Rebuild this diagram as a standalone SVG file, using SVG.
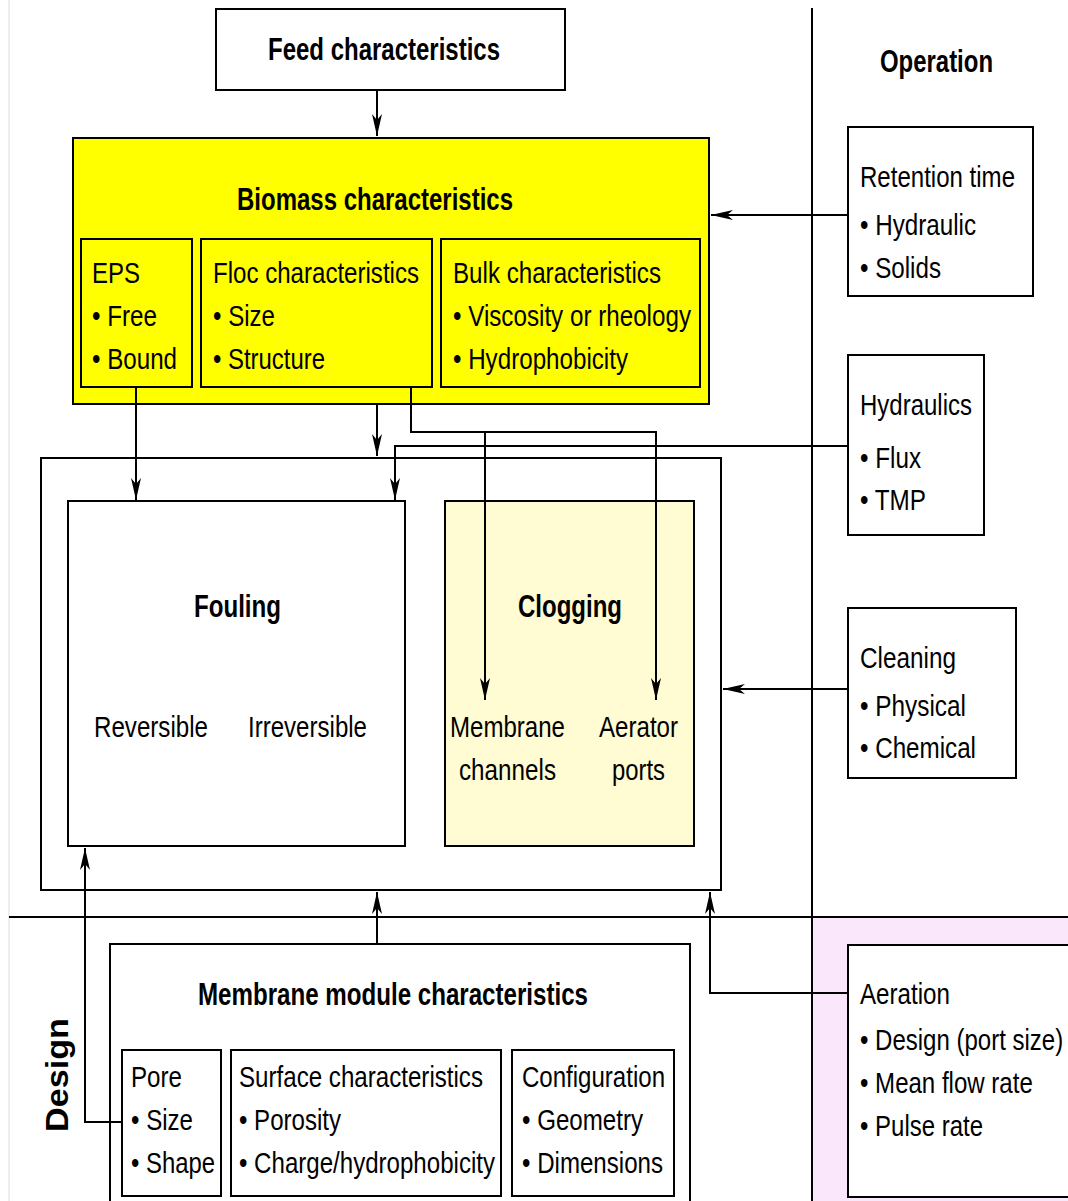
<svg xmlns="http://www.w3.org/2000/svg" width="1068" height="1201" viewBox="0 0 1068 1201">
<style>
.box{fill:#fff;stroke:#000;stroke-width:2}
.yel{fill:#ffff00;stroke:#000;stroke-width:2}
.clog{fill:#fffbd2;stroke:#000;stroke-width:2}
.ln{fill:none;stroke:#000;stroke-width:2}
.t{font-family:"Liberation Sans",Arial,sans-serif;font-size:30px;fill:#000}
.b{font-family:"Liberation Sans",Arial,sans-serif;font-size:31px;font-weight:bold;fill:#000}
</style>
<defs>
<marker id="ah" viewBox="0 0 22 10" refX="22" refY="5" markerWidth="22" markerHeight="10" markerUnits="userSpaceOnUse" orient="auto">
<path d="M0,0 L22,5 L0,10 L6,5 z" fill="#000"/>
</marker>
</defs>
<rect x="0" y="0" width="1068" height="1201" fill="#fff"/>
<g id="background">
<rect x="812" y="917" width="256" height="284" fill="#fbe7fb"/>
<line x1="9" y1="0" x2="9" y2="1201" stroke="#ddd" stroke-width="1"/>
<line x1="812" y1="8" x2="812" y2="1201" class="ln"/>
<line x1="9" y1="917" x2="1068" y2="917" class="ln"/>
<text class="b" x="880" y="72" textLength="113" lengthAdjust="spacingAndGlyphs">Operation</text>
<text class="b" transform="translate(68,1132) rotate(-90)" x="0" y="0" textLength="114" lengthAdjust="spacingAndGlyphs">Design</text>
</g>
<g id="feed">
<rect x="216" y="9" width="349" height="81" class="box"/>
<text class="b" x="268" y="60" textLength="232" lengthAdjust="spacingAndGlyphs">Feed characteristics</text>
</g>
<g id="biomass">
<rect x="73" y="138" width="636" height="266" class="yel"/>
<text class="b" x="237" y="210" textLength="276" lengthAdjust="spacingAndGlyphs">Biomass characteristics</text>
<rect x="81" y="239" width="111" height="148" class="yel"/>
<text class="t" x="92" y="283" textLength="48" lengthAdjust="spacingAndGlyphs">EPS</text>
<text class="t" x="92" y="326" textLength="65" lengthAdjust="spacingAndGlyphs">• Free</text>
<text class="t" x="92" y="369" textLength="85" lengthAdjust="spacingAndGlyphs">• Bound</text>
<rect x="201" y="239" width="231" height="148" class="yel"/>
<text class="t" x="213" y="283" textLength="206" lengthAdjust="spacingAndGlyphs">Floc characteristics</text>
<text class="t" x="213" y="326" textLength="62" lengthAdjust="spacingAndGlyphs">• Size</text>
<text class="t" x="213" y="369" textLength="112" lengthAdjust="spacingAndGlyphs">• Structure</text>
<rect x="441" y="239" width="259" height="148" class="yel"/>
<text class="t" x="453" y="283" textLength="208" lengthAdjust="spacingAndGlyphs">Bulk characteristics</text>
<text class="t" x="453" y="326" textLength="238" lengthAdjust="spacingAndGlyphs">• Viscosity or rheology</text>
<text class="t" x="453" y="369" textLength="175" lengthAdjust="spacingAndGlyphs">• Hydrophobicity</text>
</g>
<g id="retention">
<rect x="848" y="127" width="185" height="169" class="box"/>
<text class="t" x="860" y="187" textLength="155" lengthAdjust="spacingAndGlyphs">Retention time</text>
<text class="t" x="860" y="235" textLength="116" lengthAdjust="spacingAndGlyphs">• Hydraulic</text>
<text class="t" x="860" y="278" textLength="81" lengthAdjust="spacingAndGlyphs">• Solids</text>
</g>
<g id="hydraulics">
<rect x="848" y="355" width="136" height="180" class="box"/>
<text class="t" x="860" y="415" textLength="112" lengthAdjust="spacingAndGlyphs">Hydraulics</text>
<text class="t" x="860" y="468" textLength="61" lengthAdjust="spacingAndGlyphs">• Flux</text>
<text class="t" x="860" y="510" textLength="66" lengthAdjust="spacingAndGlyphs">• TMP</text>
</g>
<g id="container">
<rect x="41" y="458" width="680" height="432" class="box"/>
</g>
<g id="fouling">
<rect x="68" y="501" width="337" height="345" class="box"/>
<text class="b" x="194" y="617" textLength="87" lengthAdjust="spacingAndGlyphs">Fouling</text>
<text class="t" x="94" y="737" textLength="114" lengthAdjust="spacingAndGlyphs">Reversible</text>
<text class="t" x="248" y="737" textLength="119" lengthAdjust="spacingAndGlyphs">Irreversible</text>
</g>
<g id="clogging">
<rect x="445" y="501" width="249" height="345" class="clog"/>
<text class="b" x="518" y="617" textLength="104" lengthAdjust="spacingAndGlyphs">Clogging</text>
<text class="t" x="450" y="737" textLength="115" lengthAdjust="spacingAndGlyphs">Membrane</text>
<text class="t" x="459" y="780" textLength="97" lengthAdjust="spacingAndGlyphs">channels</text>
<text class="t" x="599" y="737" textLength="79" lengthAdjust="spacingAndGlyphs">Aerator</text>
<text class="t" x="612" y="780" textLength="53" lengthAdjust="spacingAndGlyphs">ports</text>
</g>
<g id="cleaning">
<rect x="848" y="608" width="168" height="170" class="box"/>
<text class="t" x="860" y="668" textLength="96" lengthAdjust="spacingAndGlyphs">Cleaning</text>
<text class="t" x="860" y="716" textLength="106" lengthAdjust="spacingAndGlyphs">• Physical</text>
<text class="t" x="860" y="758" textLength="116" lengthAdjust="spacingAndGlyphs">• Chemical</text>
</g>
<g id="module">
<rect x="110" y="944" width="580" height="262" class="box"/>
<text class="b" x="198" y="1005" textLength="390" lengthAdjust="spacingAndGlyphs">Membrane module characteristics</text>
<rect x="122" y="1050" width="99" height="146" class="box"/>
<text class="t" x="131" y="1087" textLength="51" lengthAdjust="spacingAndGlyphs">Pore</text>
<text class="t" x="131" y="1130" textLength="62" lengthAdjust="spacingAndGlyphs">• Size</text>
<text class="t" x="131" y="1173" textLength="84" lengthAdjust="spacingAndGlyphs">• Shape</text>
<rect x="231" y="1050" width="270" height="146" class="box"/>
<text class="t" transform="translate(239,1087) scale(0.8,1)" x="0" y="0" textLength="305" lengthAdjust="spacingAndGlyphs">Surface characteristics</text>
<text class="t" x="239" y="1130" textLength="102" lengthAdjust="spacingAndGlyphs">• Porosity</text>
<text class="t" transform="translate(239,1173) scale(0.8,1)" x="0" y="0" textLength="320" lengthAdjust="spacingAndGlyphs">• Charge/hydrophobicity</text>
<rect x="512" y="1050" width="162" height="146" class="box"/>
<text class="t" x="522" y="1087" textLength="143" lengthAdjust="spacingAndGlyphs">Configuration</text>
<text class="t" x="522" y="1130" textLength="121" lengthAdjust="spacingAndGlyphs">• Geometry</text>
<text class="t" x="522" y="1173" textLength="141" lengthAdjust="spacingAndGlyphs">• Dimensions</text>
</g>
<g id="aeration">
<rect x="848" y="945" width="230" height="252" class="box"/>
<text class="t" x="860" y="1004" textLength="90" lengthAdjust="spacingAndGlyphs">Aeration</text>
<text class="t" transform="translate(860,1050) scale(0.8,1)" x="0" y="0" textLength="254" lengthAdjust="spacingAndGlyphs">• Design (port size)</text>
<text class="t" transform="translate(860,1093) scale(0.8,1)" x="0" y="0" textLength="216" lengthAdjust="spacingAndGlyphs">• Mean flow rate</text>
<text class="t" x="860" y="1136" textLength="123" lengthAdjust="spacingAndGlyphs">• Pulse rate</text>
</g>
<g id="connectors">
<line x1="377" y1="90" x2="377" y2="136" class="ln" marker-end="url(#ah)"/>
<line x1="848" y1="215" x2="711" y2="215" class="ln" marker-end="url(#ah)"/>
<line x1="136" y1="387" x2="136" y2="500" class="ln" marker-end="url(#ah)"/>
<line x1="377" y1="404" x2="377" y2="456" class="ln" marker-end="url(#ah)"/>
<polyline points="848,446 395,446 395,500" class="ln" marker-end="url(#ah)"/>
<polyline points="411,387 411,432 656,432 656,700" class="ln" marker-end="url(#ah)"/>
<line x1="485" y1="432" x2="485" y2="700" class="ln" marker-end="url(#ah)"/>
<line x1="848" y1="689" x2="723" y2="689" class="ln" marker-end="url(#ah)"/>
<line x1="377" y1="944" x2="377" y2="892" class="ln" marker-end="url(#ah)"/>
<polyline points="848,993 710,993 710,892" class="ln" marker-end="url(#ah)"/>
<polyline points="122,1122 85,1122 85,848" class="ln" marker-end="url(#ah)"/>
</g>
</svg>
